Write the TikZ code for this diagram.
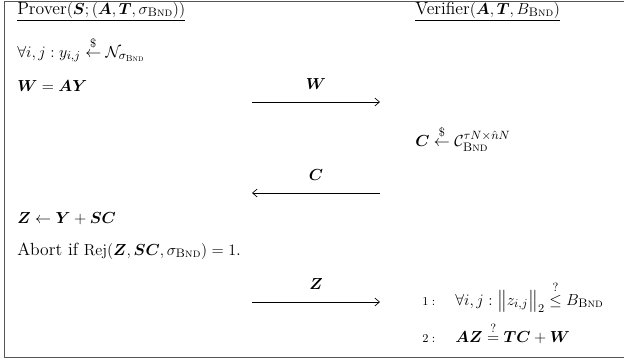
\documentclass[tikz,border=0pt]{standalone}
\usepackage{amsmath,amssymb}
\usepackage{xcolor}
\usepackage{tikz}
\usetikzlibrary{arrows.meta, positioning}
\definecolor{frameGray}{HTML}{555555}
\newcommand{\bnd}{\text{\textsc{Bnd}}}
\newcommand{\protofont}{\fontsize{13.2}{16}\selectfont}
\tikzset{
    rowtext/.style={anchor=base west, inner sep=0pt, font=\protofont},
    msglabel/.style={anchor=base, inner sep=0pt, font=\protofont},
    msgarrow/.style={line width=0.5pt, -{Straight Barb[length=3.5pt, width=6pt]}}
}

\begin{document}
\begin{tikzpicture}[x=0.75pt, y=-0.75pt]
        \useasboundingbox (0,0) rectangle (624,362);
        \draw[frameGray, line width=0.9pt] (4.5,1.5) rectangle (640,357.5);

        \node[rowtext] (prover) at (17,14) {\underline{Prover$(\boldsymbol{S};(\boldsymbol{A},\boldsymbol{T},\sigma_{\bnd}))$}};
        \node[rowtext] (verifier) at (415,14) {\underline{Verifier$(\boldsymbol{A},\boldsymbol{T},B_{\bnd})$}};

        \node[rowtext] (sample) at (17,57) {$\forall i,j : y_{i,j} \stackrel{\$}{\leftarrow} \mathcal{N}_{\sigma_{\bnd}}$};
        \node[rowtext] (commit) at (17,91) {$\boldsymbol{W} = \boldsymbol{A}\boldsymbol{Y}$};
        \node[rowtext] (challenge) at (415,146) {$\boldsymbol{C} \stackrel{\$}{\leftarrow} \mathcal{C}_{\bnd}^{\tau N\times\hat{n}N}$};
        \node[rowtext] (response) at (17,223) {$\boldsymbol{Z} \leftarrow \boldsymbol{Y} + \boldsymbol{S}\boldsymbol{C}$};
        \node[rowtext] (abort) at (17,255) {Abort if $\mathrm{Rej}(\boldsymbol{Z},\boldsymbol{S}\boldsymbol{C},\sigma_{\bnd}) = 1$.};

        \node[rowtext, font=\small] (num1) at (422,305) {$1:$};
        \node[rowtext] (check1) at (455,305) {$\forall i,j : \bigl\|z_{i,j}\bigr\|_2 \stackrel{?}{\leq} B_{\bnd}$};
        \node[rowtext, font=\small] (num2) at (422,342) {$2:$};
        \node[rowtext] (check2) at (455,342) {$\boldsymbol{A}\boldsymbol{Z} \stackrel{?}{=} \boldsymbol{T}\boldsymbol{C} + \boldsymbol{W}$};

        \coordinate (wl) at (252,102);
        \coordinate (wr) at (380,102);
        \coordinate (cl) at (252,193);
        \coordinate (cr) at (380,193);
        \coordinate (zl) at (252,302);
        \coordinate (zr) at (380,302);
        \draw[msgarrow] (wl) -- (wr);
        \draw[msgarrow] (cr) -- (cl);
        \draw[msgarrow] (zl) -- (zr);
        \node[msglabel] (wlabel) at (316,89) {$\boldsymbol{W}$};
        \node[msglabel] (clabel) at (316,180) {$\boldsymbol{C}$};
        \node[msglabel] (zlabel) at (316,289) {$\boldsymbol{Z}$};
\end{tikzpicture}
\end{document}
